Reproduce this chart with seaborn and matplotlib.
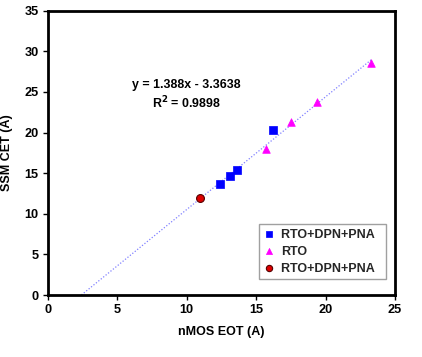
import matplotlib
matplotlib.use("Agg")
import matplotlib.pyplot as plt
import seaborn as sns
import numpy as np
import pandas as pd

sns.set_theme(style="white")
plt.rcParams['font.family'] = ['Liberation Sans', 'DejaVu Sans']
plt.rcParams['font.weight'] = 'bold'

# data
dpn_x = [12.4, 13.1, 13.6, 16.2]
dpn_y = [13.7, 14.6, 15.4, 20.35]
rto_x = [15.7, 17.5, 19.4, 23.3]
rto_y = [18.0, 21.3, 23.8, 28.6]
pt_x = [10.95]
pt_y = [11.95]
slope = 1.388
intercept = -3.3638
r2 = 0.9898
labels = ["RTO+DPN+PNA", "RTO", "RTO+DPN+PNA"]

fig = plt.figure(figsize=(4.22, 3.57), dpi=100)
ax = fig.add_axes([47.7/422, 1 - 295/357, (395-47.7)/422, (295-10.7)/357])

# trendline
x0 = -intercept / slope
x1 = max(rto_x)
tx = np.array([x0, x1])
line_df = pd.DataFrame({"x": tx, "y": slope * tx + intercept})
sns.lineplot(data=line_df, x="x", y="y", ax=ax, color="#8080ff", lw=0.9,
             linestyle=(0, (1, 1.5)), legend=False)

sns.scatterplot(x=dpn_x, y=dpn_y, ax=ax, marker="s", color="#0000ff", s=30,
                edgecolor="#0000ff", linewidth=0.5, label=labels[0] + "  ", zorder=3)
sns.scatterplot(x=rto_x, y=rto_y, ax=ax, marker="^", color="#ff00ff", s=30,
                edgecolor="#ff00ff", linewidth=0.5, label=labels[1], zorder=3)
sns.scatterplot(x=pt_x, y=pt_y, ax=ax, marker="o", color="#dd0000", s=32,
                edgecolor="#550000", linewidth=0.8, label=labels[2] + "  ", zorder=3)

ax.text(10.0, 25.8, f"y = {slope}x - {abs(intercept)}", ha="center", va="center",
        fontsize=8.9, fontweight="bold", color="black")
ax.text(10.0, 23.6, f"R$^2$ = {r2}", ha="center", va="center",
        fontsize=8.9, fontweight="bold", color="black")

ax.set_xlim(0, 25)
ax.set_ylim(0, 35)
ax.set_xticks(np.arange(0, 26, 5))
ax.set_yticks(np.arange(0, 36, 5))
ax.tick_params(axis="both", direction="out", length=3.5, width=1, color="black",
               labelsize=9.2, labelcolor="black", bottom=True, left=True, pad=3)
for lab in ax.get_xticklabels() + ax.get_yticklabels():
    lab.set_fontweight("bold")
for sp in ax.spines.values():
    sp.set_color("black")
    sp.set_linewidth(2)

ax.set_xlabel("nMOS EOT (A)", fontsize=9, fontweight="bold", color="black", labelpad=7)
ax.set_ylabel("SSM CET (A)", fontsize=9, fontweight="bold", color="black", labelpad=8)

leg = ax.legend(loc="lower right", bbox_to_anchor=(0.974, 0.056), borderaxespad=0,
                frameon=True, fancybox=False, edgecolor="#888888", handletextpad=0.45,
                handlelength=1.0, borderpad=0.35, labelspacing=0.4, markerscale=0.8,
                prop={"weight": "bold", "size": 9})
leg.get_frame().set_linewidth(1)

fig.savefig("out.png", dpi=100, facecolor="white")
